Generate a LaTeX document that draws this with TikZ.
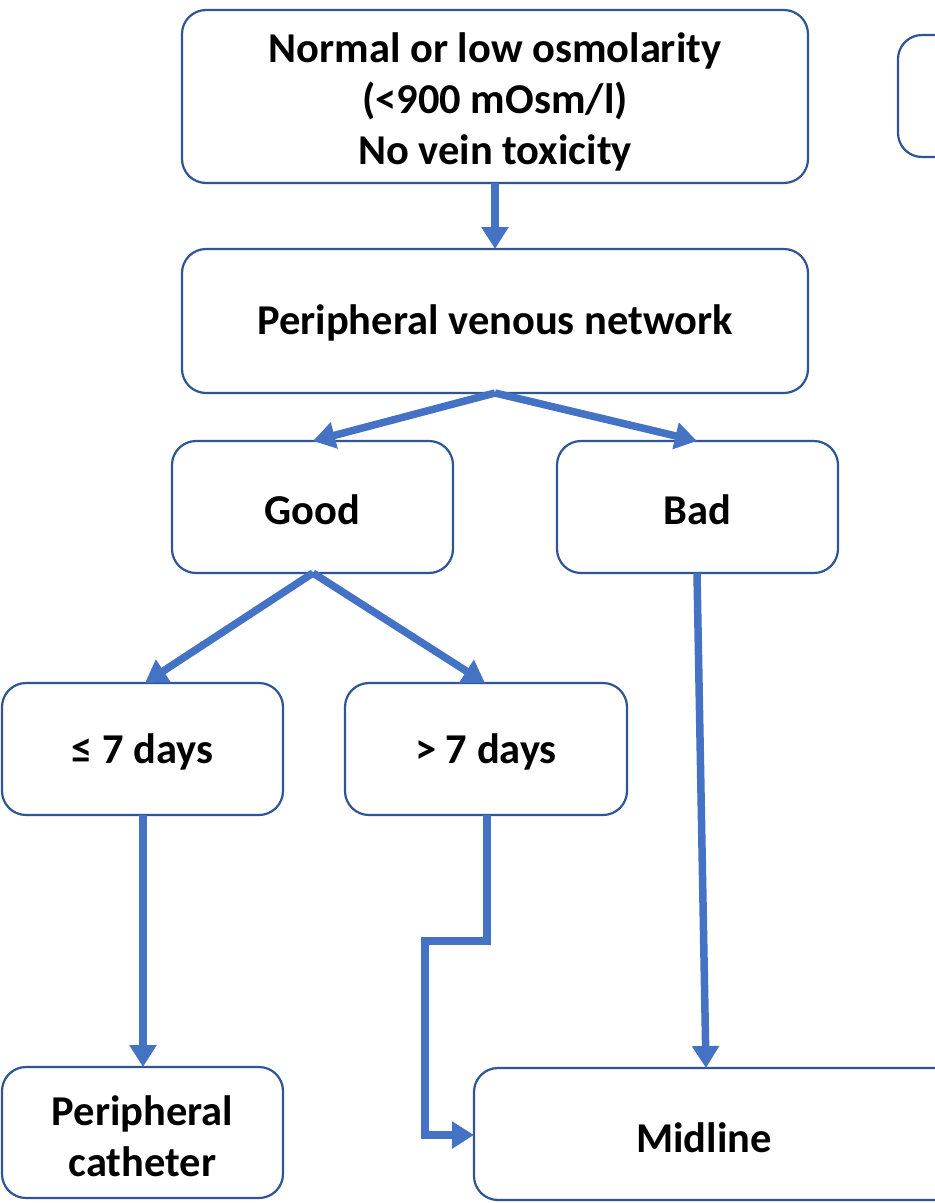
\documentclass[tikz,border=0pt]{standalone}
\usepackage{fontspec}
\setmainfont{Carlito}
\usetikzlibrary{arrows.meta}
\definecolor{boxline}{HTML}{2F5597}
\definecolor{flow}{HTML}{4472C4}
\begin{document}
\begin{tikzpicture}[x=1pt,y=-1pt,
  card/.style={draw=boxline,line width=2.2pt,rounded corners=24pt,fill=white},
  lbl/.style={font=\fontsize{42.5}{51}\selectfont\bfseries,align=center,inner sep=0pt},
  link/.style={draw=flow,line width=7.5pt,-{Triangle[length=22pt,width=26pt]}}]
\useasboundingbox (0,0) rectangle (935,1203);
% boxes
\draw[card] (182,10) rectangle (808,183);
\draw[card] (898,35) rectangle (1000,157);
\draw[card] (182,249) rectangle (808,393);
\draw[card] (172,441) rectangle (453,573);
\draw[card] (557,441) rectangle (838,573);
\draw[card] (2,683) rectangle (283,815);
\draw[card] (345,683) rectangle (627,815);
\draw[card] (2,1067) rectangle (283,1198);
\draw[card] (474,1068) rectangle (1000,1200);
% labels
\node[lbl] (osm) at (495,102) {Normal or low osmolarity\\(<900 mOsm/l)\\No vein toxicity};
\node[lbl] (pvn) at (495,323) {Peripheral venous network};
\node[lbl] (good) at (312.5,510) {Good};
\node[lbl] (bad) at (697.5,510) {Bad};
\node[lbl] (short) at (142.5,752) {≤ 7 days};
\node[lbl] (long) at (486,752) {> 7 days};
\node[lbl] (pc) at (142.5,1136) {Peripheral\\catheter};
\node[lbl] (mid) at (704,1138) {Midline};
% anchor points on box edges
\coordinate (osmB) at (495,183);
\coordinate (pvnT) at (495,249);
\coordinate (pvnB) at (495,393);
\coordinate (goodT) at (313,441);
\coordinate (badT) at (697,441);
\coordinate (goodB) at (313,573);
\coordinate (shortT) at (145,683);
\coordinate (longT) at (485,683);
\coordinate (shortB) at (143,815);
\coordinate (pcT) at (143,1067);
\coordinate (longB) at (487,815);
\coordinate (midL) at (474,1135);
\coordinate (badB) at (697,573);
\coordinate (midT) at (706,1068);
% connectors
\draw[link] (osmB) -- (pvnT);
\draw[link] (pvnB) -- (goodT);
\draw[link] (pvnB) -- (badT);
\draw[link] (goodB) -- (shortT);
\draw[link] (goodB) -- (longT);
\draw[link] (shortB) -- (pcT);
\draw[link,line join=miter] (longB) -- (487,941) -- (425,941) -- (425,1135) -- (midL);
\draw[link] (badB) -- (midT);
\end{tikzpicture}
\end{document}
